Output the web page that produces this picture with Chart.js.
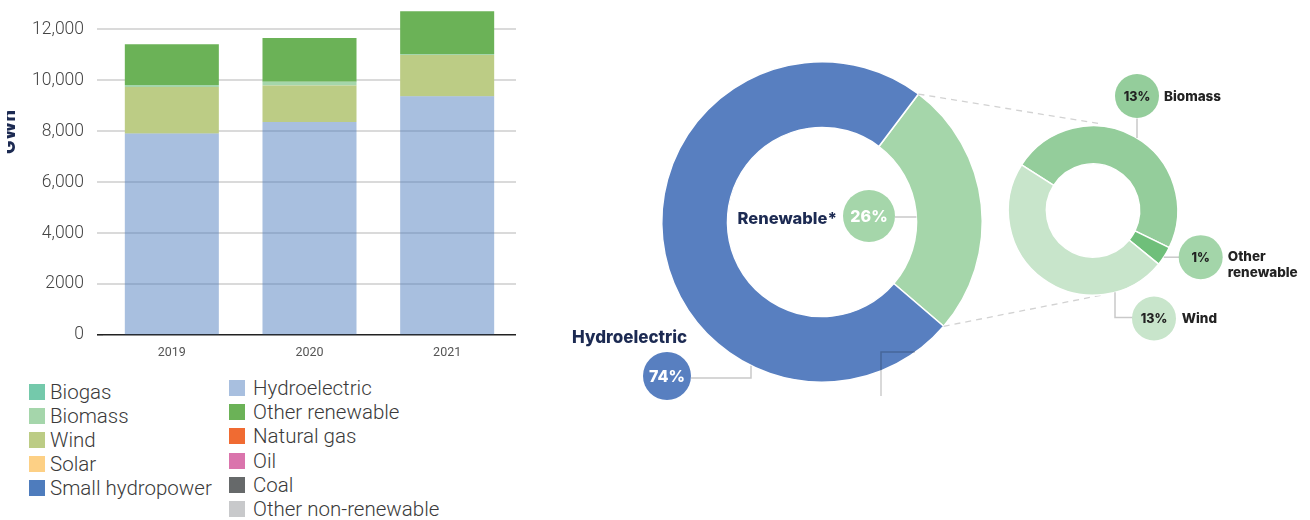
<!DOCTYPE html>
<html>
<head>
<meta charset="utf-8">
<script src="https://cdn.jsdelivr.net/npm/chart.js@4.4.1/dist/chart.umd.min.js"></script>
<style>
  body { margin: 0; background: #fff; width: 1310px; height: 520px; position: relative; overflow: hidden; }
  .box { position: absolute; }
  #barBox { left: 0; top: 0; width: 520px; height: 370px; }
  #mixBox { left: 540px; top: 0; width: 770px; height: 520px; z-index: 1; }
  #renewBox { left: 990px; top: 0; width: 320px; height: 400px; z-index: 2; }
  .legend-item { position: absolute; height: 24px; display: flex; align-items: center;
    font-family: Roboto, sans-serif; font-weight: 300; font-size: 20.5px; color: #3a3a3a; white-space: nowrap; }
  .legend-item span.sw { width: 16px; height: 16px; flex: none; }
</style>
</head>
<body>
<div class="box" id="barBox"><canvas id="bars"></canvas></div>
<div class="box" id="mixBox"><canvas id="mix"></canvas></div>
<div class="box" id="renewBox"><canvas id="renew"></canvas></div>
<div id="legend"></div>

<script>
// Electricity generation by source, GWh
const years = ["2019", "2020", "2021"];
const hydroelectric = [7910, 8370, 9380];
const smallHydropower = [0, 0, 0];
const wind = [1830, 1430, 1620];
const biomass = [80, 150, 40];
const biogas = [0, 0, 0];
const solar = [0, 0, 0];
const otherRenewable = [1600, 1710, 1680];
const naturalGas = [0, 0, 0];
const oil = [0, 0, 0];
const coal = [0, 0, 0];
const otherNonRenewable = [0, 0, 0];
const yTickValues = [0, 2000, 4000, 6000, 8000, 10000, 12000];
const yTickLabels = ["0", "2000", "4,000", "6,000", "8,000", "10,000", "12,000"];

// Generation mix, percent
const mixLabels = ["Renewable*", "Hydroelectric"];
const mixShares = [26, 74];
const renewableLabels = ["Biomass", "Other renewable", "Wind"];
const renewableShares = [13, 1, 13];

const legendLeft = ["Biogas", "Biomass", "Wind", "Solar", "Small hydropower"];
const legendRight = ["Hydroelectric", "Other renewable", "Natural gas", "Oil", "Coal", "Other non-renewable"];

const COLORS = {
  "Biogas": "#74c9ab",
  "Biomass": "#a5d6ab",
  "Wind": "#bccc85",
  "Solar": "#fdd085",
  "Small hydropower": "#4e7cbd",
  "Hydroelectric": "rgba(78, 124, 189, 0.49)",
  "Other renewable": "#6bb257",
  "Natural gas": "#f06b32",
  "Oil": "#da74ac",
  "Coal": "#66696a",
  "Other non-renewable": "#c8c9cb",
};
const NAVY = "#1c2a52";
const LEADER = "#c9c9c9";
const BOLD = "Inter, 'DejaVu Sans', sans-serif";

// bottom-to-top stacking order
const stackOrder = [
  ["Hydroelectric", hydroelectric],
  ["Small hydropower", smallHydropower],
  ["Wind", wind],
  ["Biomass", biomass],
  ["Biogas", biogas],
  ["Solar", solar],
  ["Other renewable", otherRenewable],
  ["Natural gas", naturalGas],
  ["Oil", oil],
  ["Coal", coal],
  ["Other non-renewable", otherNonRenewable],
];

// legend, two columns
function legendColumn(names, left, top, step, gap) {
  names.forEach((name, i) => {
    const item = document.createElement("div");
    item.className = "legend-item";
    item.style.left = left + "px";
    item.style.top = (top + i * step) + "px";
    item.innerHTML = `<span class="sw" style="background:${COLORS[name]};margin-right:${gap}px"></span>${name}`;
    document.getElementById("legend").appendChild(item);
  });
}
legendColumn(legendLeft, 29, 380, 24, 5);
legendColumn(legendRight, 229, 376, 24.2, 8);

// "GWh" axis title, cut off at the left edge
const gwhTitle = {
  id: "gwhTitle",
  afterDraw(chart) {
    const ctx = chart.ctx;
    ctx.save();
    ctx.beginPath();
    ctx.rect(7, 0, 40, chart.height);
    ctx.clip();
    ctx.translate(15, 132);
    ctx.rotate(-Math.PI / 2);
    ctx.font = `800 18px ${BOLD}`;
    ctx.fillStyle = NAVY;
    ctx.textAlign = "center";
    ctx.textBaseline = "alphabetic";
    ctx.fillText("GWh", 0, 0);
    ctx.restore();
  }
};

new Chart(document.getElementById("bars"), {
  type: "bar",
  data: {
    labels: years,
    datasets: stackOrder.map(([label, data]) => ({
      label,
      data,
      backgroundColor: COLORS[label],
      borderWidth: 0,
      barPercentage: 0.683,
      categoryPercentage: 1,
    })),
  },
  options: {
    responsive: true,
    maintainAspectRatio: false,
    animation: false,
    layout: { padding: { top: 4, right: 4, left: 0, bottom: 0 } },
    plugins: { legend: { display: false }, tooltip: { enabled: false } },
    scales: {
      x: {
        stacked: true,
        grid: { display: false, drawTicks: false },
        border: { display: false },
        ticks: { color: "#555", padding: 10, font: { family: "Roboto", size: 12.5 } },
        afterFit: (s) => { s.height = 35; s.paddingLeft = 0; s.paddingRight = 0; },
      },
      y: {
        stacked: true,
        min: 0,
        max: 13000,
        ticks: {
          padding: 13,
          color: "#444",
          font: { family: "Roboto", weight: 300, size: 17.5 },
          callback: (v) => yTickLabels[yTickValues.indexOf(v)],
        },
        afterBuildTicks: (s) => { s.ticks = yTickValues.map((value) => ({ value })); },
        grid: {
          drawTicks: true,
          tickLength: 6,
          lineWidth: (c) => (c.tick && c.tick.value === 0 ? 1.6 : 2),
          color: (c) => (c.tick && c.tick.value === 0 ? "#222" : "#dadada"),
        },
        border: { display: false },
        afterFit: (s) => { s.width = 103; s.paddingTop = 0; s.paddingBottom = 0; },
      },
    },
  },
  plugins: [gwhTitle],
});

// drawing helpers for the callouts
function bubble(ctx, x, y, r, fill, text, color, size) {
  ctx.beginPath();
  ctx.arc(x, y, r, 0, Math.PI * 2);
  ctx.fillStyle = fill;
  ctx.fill();
  ctx.font = `800 ${size}px ${BOLD}`;
  ctx.fillStyle = color;
  ctx.textAlign = "center";
  ctx.textBaseline = "middle";
  ctx.fillText(text, x, y + 1);
}
function caption(ctx, lines, x, y, align, size, color, lineHeight) {
  ctx.font = `800 ${size}px ${BOLD}`;
  ctx.fillStyle = color;
  ctx.textAlign = align;
  ctx.textBaseline = "middle";
  lines.forEach((l, i) => ctx.fillText(l, x, y + i * lineHeight));
}
function leader(ctx, pts, color) {
  ctx.beginPath();
  pts.forEach(([x, y], i) => (i ? ctx.lineTo(x, y) : ctx.moveTo(x, y)));
  ctx.strokeStyle = color;
  ctx.lineWidth = 1.5;
  ctx.setLineDash([]);
  ctx.stroke();
}

// breakdown of the renewable share
const renewColors = ["#94cd9b", "#6fbf7a", "#c8e5cb"];
const renewBubbleColors = ["#94cd9b", "#a3d5a9", "#c8e5cb"];
const renewCallouts = {
  id: "renewCallouts",
  afterDraw(chart) {
    const ctx = chart.ctx;
    const a = chart.getDatasetMeta(0).data[0];
    const cx = a.x, cy = a.y, R = a.outerRadius;
    ctx.save();
    // Biomass
    leader(ctx, [[cx + 44, cy - 92], [cx + 44, cy - Math.sqrt(R * R - 44 * 44)]], LEADER);
    bubble(ctx, cx + 44, cy - 114.5, 22, renewBubbleColors[0], renewableShares[0] + "%", "#222", 12.5);
    caption(ctx, [renewableLabels[0]], cx + 71, cy - 114, "left", 13.5, "#222", 15);
    // Other renewable
    leader(ctx, [[cx + Math.sqrt(R * R - 46.7 * 46.7), cy + 46.7], [cx + 86, cy + 46.7]], LEADER);
    bubble(ctx, cx + 107.7, cy + 46.7, 22, renewBubbleColors[1], renewableShares[1] + "%", "#222", 12.5);
    caption(ctx, renewableLabels[1].split(" "), cx + 134.7, cy + 46.5, "left", 13.5, "#222", 15.5);
    // Wind
    leader(ctx, [[cx + 22, cy + Math.sqrt(R * R - 22 * 22)], [cx + 22, cy + 107], [cx + 40, cy + 107]], LEADER);
    bubble(ctx, cx + 61, cy + 108, 22, renewBubbleColors[2], renewableShares[2] + "%", "#222", 12.5);
    caption(ctx, [renewableLabels[2]], cx + 88.7, cy + 108, "left", 13.5, "#222", 15);
    ctx.restore();
  }
};

const renewChart = new Chart(document.getElementById("renew"), {
  type: "doughnut",
  data: {
    labels: renewableLabels,
    datasets: [{ data: renewableShares, backgroundColor: renewColors, borderColor: "#fff", borderWidth: 1.5 }],
  },
  options: {
    responsive: true,
    maintainAspectRatio: false,
    animation: false,
    rotation: -57.4,
    cutout: "55%",
    layout: { padding: { left: 17, right: 131, top: 125, bottom: 104 } },
    plugins: { legend: { display: false }, tooltip: { enabled: false } },
  },
  plugins: [renewCallouts],
});

// overall mix: renewable vs hydroelectric
const mixColors = ["#a5d6aa", "#587fc0"];
const mixCallouts = {
  id: "mixCallouts",
  afterDraw(chart) {
    const ctx = chart.ctx;
    const green = chart.getDatasetMeta(0).data[0];
    const cx = green.x, cy = green.y, r0 = green.innerRadius, R = green.outerRadius;
    ctx.save();

    // dashed guides from the renewable slice to the breakdown ring
    const sm = renewChart.getDatasetMeta(0).data[0];
    const ox = renewChart.canvas.getBoundingClientRect().left - chart.canvas.getBoundingClientRect().left;
    const oy = renewChart.canvas.getBoundingClientRect().top - chart.canvas.getBoundingClientRect().top;
    ctx.strokeStyle = "#d2d2d2";
    ctx.lineWidth = 1.3;
    ctx.setLineDash([6, 5]);
    ctx.beginPath();
    ctx.moveTo(cx + R * Math.cos(green.startAngle), cy + R * Math.sin(green.startAngle));
    ctx.lineTo(ox + sm.x + 7, oy + sm.y - sm.outerRadius - 2);
    ctx.moveTo(cx + R * Math.cos(green.endAngle), cy + R * Math.sin(green.endAngle));
    ctx.lineTo(ox + sm.x + 8, oy + sm.y + sm.outerRadius);
    ctx.stroke();

    // Renewable*
    leader(ctx, [[cx + 73, cy - 5], [cx + Math.sqrt(r0 * r0 - 25), cy - 5]], LEADER);
    bubble(ctx, cx + 47, cy - 6, 26, mixColors[0], mixShares[0] + "%", "#fff", 16);
    caption(ctx, [mixLabels[0]], cx + 15, cy - 3, "right", 16.5, NAVY, 18);

    // Hydroelectric
    leader(ctx, [[cx - 131, cy + 156], [cx - 71, cy + 156], [cx - 71, cy + Math.sqrt(R * R - 71 * 71)]], LEADER);
    bubble(ctx, cx - 155, cy + 154, 24, mixColors[1], mixShares[1] + "%", "#fff", 16);
    caption(ctx, [mixLabels[1]], cx - 250, cy + 116, "left", 17, NAVY, 18);

    // bracket under the ring
    leader(ctx, [[cx + 93, cy + 130], [cx + 59, cy + 130], [cx + 59, cy + 174]], "rgba(0,0,0,0.2)");
    ctx.restore();
  }
};

new Chart(document.getElementById("mix"), {
  type: "doughnut",
  data: {
    labels: mixLabels,
    datasets: [{ data: mixShares, backgroundColor: mixColors, borderColor: "#fff", borderWidth: 1.5 }],
  },
  options: {
    responsive: true,
    maintainAspectRatio: false,
    animation: false,
    rotation: 37,
    cutout: "59%",
    layout: { padding: { left: 121, right: 327, top: 61, bottom: 137 } },
    plugins: { legend: { display: false }, tooltip: { enabled: false } },
  },
  plugins: [mixCallouts],
});
</script>
</body>
</html>
